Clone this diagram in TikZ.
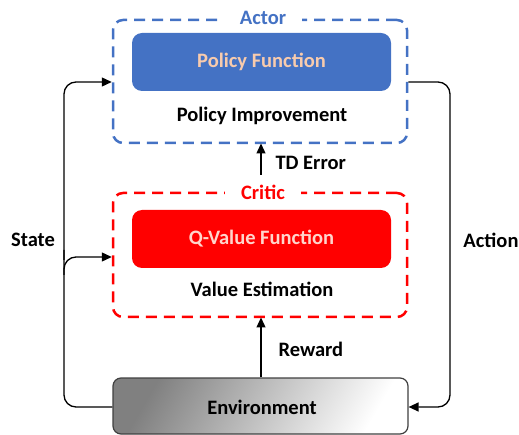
\documentclass[tikz,border=0pt]{standalone}
\usepackage{fontspec}
\setmainfont{Carlito}
\usetikzlibrary{arrows.meta,calc}
\definecolor{actorblue}{HTML}{4472C4}
\definecolor{criticred}{HTML}{FF0000}
\definecolor{peach}{HTML}{F8CBAD}
\definecolor{pinkish}{HTML}{FFD5CC}
\begin{document}
\begin{tikzpicture}[x=1pt,y=-1pt,
  every node/.style={font=\bfseries\fontsize{20.5}{23}\selectfont},
  groupbox/.style={draw,line width=2.5pt,dash pattern=on 11pt off 7pt,rounded corners=10pt},
  grouplabel/.style={fill=white,inner xsep=16pt,inner ysep=1pt},
  fillbox/.style={rounded corners=10pt,minimum width=259pt,minimum height=58pt,inner sep=0pt},
  conn/.style={line width=1.3pt,-{Triangle[length=10pt,width=9pt]},rounded corners=12pt},
  plain/.style={line width=1.3pt,rounded corners=12pt}]
\useasboundingbox (0,0) rectangle (519,435);

% Actor group
\node[groupbox,draw=actorblue,minimum width=294pt,minimum height=123pt,inner sep=0pt] (actor) at (260,81.5) {};
\node[grouplabel,text=actorblue] (actorlbl) at (263,18) {Actor};
\node[fillbox,fill=actorblue,text=peach] (policy) at (261.5,62) {Policy Function};
\node (pimp) at (262,116) {Policy Improvement};

% Critic group
\node[groupbox,draw=criticred,minimum width=294pt,minimum height=124pt,inner sep=0pt] (critic) at (260,255) {};
\node[grouplabel,text=criticred] (criticlbl) at (263,192) {Critic};
\node[fillbox,fill=criticred,text=pinkish] (qvalue) at (261.5,239) {Q-Value Function};
\node (vest) at (262,289) {Value Estimation};

% Environment
\node[draw=black!75,line width=1.2pt,rounded corners=8pt,minimum width=295pt,minimum height=56pt,inner sep=0pt,
      shading=axis,left color=black!50,right color=white,shading angle=60] (env) at (260.5,406) {};
\node (envlbl) at (262,407) {Environment};

% Edge labels
\node (state) at (33,240) {State};
\node (action) at (491,240) {Action};
\node[anchor=west] (tderr) at (272,163) {TD Error};
\node[anchor=west] (reward) at (275,349) {Reward};

% Connectors
\coordinate (tdstart) at (261,175);
\draw[conn] (tdstart) -- (261,143.5);
\draw[conn] (env.north -| 261,0) -- (261,317.5);
\coordinate (sl) at (64,0);
\draw[plain] (env.west |- 0,407) -- (sl |- 0,407) -- (sl |- 0,250);
\draw[conn] (sl |- 0,260) -- (sl |- 0,82) -- (actor.west |- 0,82);
\draw[conn] (sl |- 0,275) -- (sl |- 0,257) -- (critic.west |- 0,257);
\coordinate (ar) at (450,0);
\draw[conn] (actor.east |- 0,82) -- (ar |- 0,82) -- (ar |- 0,407) -- (env.east |- 0,407);
\end{tikzpicture}
\end{document}
